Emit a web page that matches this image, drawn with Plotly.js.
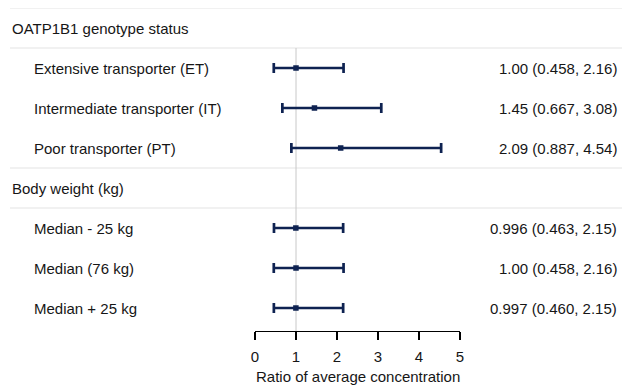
<!DOCTYPE html>
<html><head><meta charset="utf-8">
<script src="https://cdn.plot.ly/plotly-3.0.1.min.js"></script>
<style>html,body{margin:0;padding:0;background:#fff}#chart{width:622px;height:385px}</style>
</head><body><div id="chart"></div>
<script>
// Row structure (top to bottom)
const rowLabels = ["OATP1B1 genotype status","Extensive transporter (ET)","Intermediate transporter (IT)","Poor transporter (PT)","Body weight (kg)","Median - 25 kg","Median (76 kg)","Median + 25 kg"];
const rowIsHeader = [true,false,false,false,true,false,false,false];
// Estimates (null for header rows)
const estimate = [null,1.00,1.45,2.09,null,0.996,1.00,0.997];
const lower    = [null,0.458,0.667,0.887,null,0.463,0.458,0.460];
const upper    = [null,2.16,3.08,4.54,null,2.15,2.16,2.15];
const ciText   = ["","1.00 (0.458, 2.16)","1.45 (0.667, 3.08)","2.09 (0.887, 4.54)","","0.996 (0.463, 2.15)","1.00 (0.458, 2.16)","0.997 (0.460, 2.15)"];
const xTicks = [0,1,2,3,4,5];
const xTitle = "Ratio of average concentration";

const navy = "#0e2251";
const font = "Liberation Sans, Arial, Helvetica, sans-serif";
const txtColor = "#161616";
const idx = rowLabels.map((_, i) => i);
const dataIdx = idx.filter(i => estimate[i] !== null);

const trace = {
  type: "scatter", mode: "markers",
  x: dataIdx.map(i => estimate[i]),
  y: dataIdx,
  marker: {symbol: "square", size: 5.5, color: navy},
  error_x: {type: "data", symmetric: false,
    array: dataIdx.map(i => upper[i] - estimate[i]),
    arrayminus: dataIdx.map(i => estimate[i] - lower[i]),
    color: navy, thickness: 2.7, width: 5},
  hoverinfo: "skip"
};

const plotTop = 8, plotBottom = 331;
const annotations = [];
idx.forEach(i => {
  annotations.push({xref: "paper", yref: "y", x: rowIsHeader[i] ? 10/622 : 32/622, y: i,
    xanchor: "left", yanchor: "middle", text: rowLabels[i], showarrow: false,
    font: {family: font, size: 15, color: txtColor}});
  if (ciText[i]) annotations.push({xref: "paper", yref: "y", x: 619/622, y: i,
    xanchor: "right", yanchor: "middle", text: ciText[i], showarrow: false,
    font: {family: font, size: 15, color: txtColor}});
});
annotations.push({xref: "paper", yref: "paper", x: 357.5/622, y: -(376.5 - plotBottom)/(plotBottom - plotTop),
  xanchor: "center", yanchor: "middle", text: xTitle, showarrow: false,
  font: {family: font, size: 15, color: txtColor}});

const seps = [-0.5, 0.5, 3.5, 4.5];
const shapes = seps.map(v => ({type: "line", xref: "paper", yref: "y", x0: 10/622, x1: 1, y0: v, y1: v,
  line: {color: "#ececec", width: 1.5}, layer: "below"}));
shapes.push({type: "line", xref: "x", yref: "y", x0: 1, x1: 1, y0: 0.5, y1: 7.575,
  line: {color: "#c8c8c8", width: 1}, layer: "below"});

const layout = {
  width: 622, height: 385,
  margin: {l: 0, r: 0, t: plotTop, b: 385 - plotBottom},
  paper_bgcolor: "#fff", plot_bgcolor: "#fff",
  showlegend: false,
  xaxis: {domain: [255/622, 460/622], range: [0, 5], tickvals: xTicks, ticktext: xTicks.map(String),
    showgrid: false, zeroline: false, showline: true, linecolor: "#000", linewidth: 1,
    ticks: "outside", ticklen: 8, tickcolor: "#000", tickwidth: 1.2,
    tickfont: {family: font, size: 15, color: txtColor}, ticklabelstandoff: 4,
    fixedrange: true},
  yaxis: {range: [7.575, -0.5], visible: false, showgrid: false, zeroline: false, fixedrange: true},
  annotations: annotations, shapes: shapes
};

Plotly.newPlot("chart", [trace], layout, {displayModeBar: false, staticPlot: true});
</script></body></html>
